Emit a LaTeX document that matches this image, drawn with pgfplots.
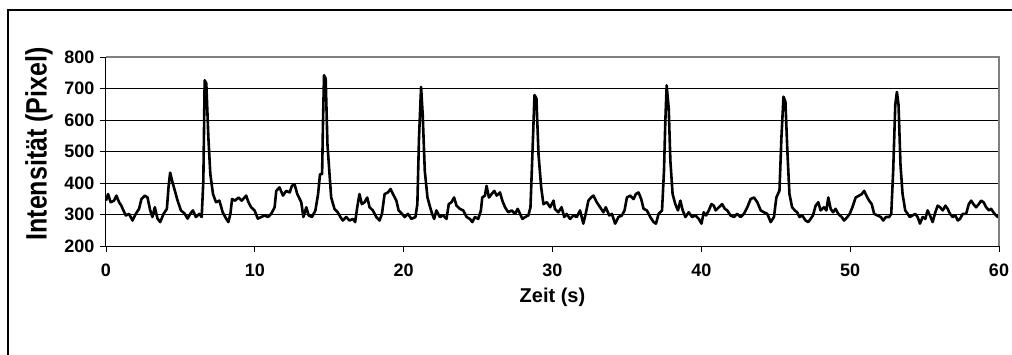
\documentclass[border=0pt]{standalone}
\usepackage{pgfplots}
\pgfplotsset{compat=1.18}
\usepackage{fontspec}
\usepackage{graphicx}
\setmainfont{Liberation Sans}
\newfontfamily\ylabfont{Liberation Sans}
\begin{document}
\begin{tikzpicture}
\useasboundingbox (-106pt,-108pt) rectangle (906pt,246pt);
\draw[line width=1.5pt] (-98pt,-110pt) -- (-98pt,236pt) -- (908pt,236pt);
\begin{axis}[at={(0pt,0pt)}, anchor=south west, width=893pt, height=189pt, scale only axis,
 xmin=0, xmax=60, ymin=200, ymax=800,
 axis x line*=bottom, axis y line*=left,
 axis line style={black, line width=1pt},
 xtick={0,10,...,60}, ytick={200,300,...,800},
 tick align=outside, major tick length=6pt, tick style={black, line width=0.8pt},
 ymajorgrids, major grid style={black, line width=0.9pt},
 /pgf/number format/assume math mode=true,
 ticklabel style={font=\bfseries\fontsize{18}{18}\selectfont},
 xticklabel style={yshift=-8pt},
 yticklabel style={xshift=-2pt},
 xlabel={Zeit (s)},
 ylabel={\scalebox{1}[1.18]{\ylabfont\bfseries\fontsize{25}{25}\selectfont Intensität (Pixel)}},
 xlabel style={font=\bfseries\fontsize{20}{20}\selectfont, at={(axis description cs:0.5,-0.27)}, anchor=center},
 ylabel style={at={(axis description cs:-0.075,0.54)}, anchor=center},
 clip=false
]
\addplot[black, line width=2.6pt, line join=round] table {
0.00 344
0.14 365
0.31 339
0.54 344
0.70 360
0.88 339
1.03 328
1.17 313
1.33 297
1.55 302
1.78 281
2.00 302
2.22 318
2.38 349
2.61 360
2.79 354
2.97 313
3.12 292
3.28 323
3.46 287
3.64 276
3.87 302
4.09 318
4.20 386
4.31 433
4.47 402
4.63 375
4.81 344
5.03 313
5.26 304
5.48 287
5.66 302
5.84 313
6.04 292
6.27 302
6.43 292
6.54 407
6.63 726
6.74 716
6.88 543
7.01 428
7.19 365
7.39 339
7.62 344
7.84 307
8.07 287
8.22 276
8.36 302
8.47 349
8.67 344
8.90 354
9.12 344
9.42 360
9.57 339
9.75 323
9.98 313
10.20 287
10.43 292
10.65 297
10.88 292
11.10 302
11.33 323
11.44 375
11.66 386
11.89 360
12.11 375
12.34 370
12.49 391
12.67 396
12.85 365
13.12 339
13.26 292
13.46 323
13.62 297
13.84 292
14.07 313
14.25 365
14.38 428
14.52 428
14.58 595
14.65 742
14.76 731
14.88 522
15.13 354
15.35 318
15.57 307
15.75 292
15.91 281
16.14 292
16.36 281
16.59 286
16.74 276
16.88 323
17.03 365
17.19 333
17.37 339
17.55 354
17.71 323
17.93 313
18.16 292
18.38 281
18.54 302
18.72 365
18.94 370
19.12 381
19.28 365
19.51 344
19.66 313
19.89 302
20.07 292
20.29 302
20.52 286
20.79 292
20.92 333
21.03 543
21.17 705
21.28 616
21.42 438
21.60 354
21.75 328
21.91 302
22.05 286
22.20 313
22.43 292
22.65 297
22.88 286
23.03 333
23.21 339
23.39 354
23.55 328
23.78 318
24.00 313
24.23 292
24.45 286
24.61 276
24.79 292
25.01 286
25.19 313
25.28 354
25.46 360
25.57 391
25.73 354
25.91 365
26.09 375
26.25 360
26.47 370
26.63 344
26.81 323
27.03 307
27.26 313
27.48 302
27.66 318
27.82 302
27.98 286
28.16 292
28.38 297
28.52 323
28.65 491
28.79 679
28.92 669
29.06 491
29.24 386
29.39 333
29.62 339
29.84 323
30.07 344
30.16 318
30.39 307
30.61 323
30.79 292
30.95 302
31.18 286
31.40 297
31.63 292
31.85 313
32.07 271
32.23 302
32.41 344
32.59 354
32.75 360
32.97 339
33.20 323
33.42 307
33.58 323
33.81 297
33.99 302
34.21 271
34.43 292
34.66 297
34.84 313
35.00 354
35.22 360
35.45 349
35.60 365
35.78 370
35.96 349
36.12 318
36.34 313
36.57 292
36.79 276
36.95 271
37.13 302
37.36 313
37.49 438
37.58 595
37.67 710
37.81 637
37.92 470
38.07 365
38.25 333
38.43 313
38.59 344
38.75 313
38.93 292
39.15 307
39.38 292
39.60 297
39.83 286
40.01 271
40.16 307
40.32 297
40.50 313
40.68 333
40.84 328
40.96 313
41.18 323
41.40 333
41.58 318
41.74 313
41.96 297
42.19 292
42.41 302
42.64 292
42.86 302
43.09 323
43.31 349
43.54 354
43.76 339
43.99 313
44.21 307
44.43 302
44.66 276
44.88 292
45.04 354
45.25 376
45.38 543
45.52 674
45.65 658
45.79 491
45.92 365
46.10 323
46.28 313
46.44 307
46.60 292
46.78 297
47.00 281
47.18 276
47.34 286
47.50 297
47.68 328
47.86 339
48.01 313
48.24 323
48.40 313
48.53 354
48.69 318
48.85 307
49.02 318
49.20 302
49.43 292
49.59 281
49.81 292
49.97 302
50.15 323
50.37 354
50.60 360
50.78 365
50.94 375
51.09 360
51.27 344
51.45 333
51.61 302
51.83 297
52.06 292
52.22 281
52.40 292
52.62 292
52.76 302
52.89 438
53.03 648
53.14 689
53.25 648
53.38 459
53.52 365
53.70 313
53.86 302
54.01 292
54.19 297
54.37 302
54.53 292
54.69 271
54.87 292
55.05 286
55.20 313
55.36 297
55.54 276
55.72 307
55.88 328
56.04 323
56.22 313
56.40 328
56.55 318
56.71 302
56.89 292
57.07 297
57.23 281
57.38 286
57.56 302
57.79 302
57.97 333
58.13 344
58.28 333
58.46 323
58.64 333
58.80 344
58.96 339
59.14 323
59.32 313
59.47 318
59.70 302
59.92 292
60.00 297
};
\draw[gray, line width=1.2pt] (rel axis cs:0,1) -- (rel axis cs:1,1) -- (rel axis cs:1,0);
\end{axis}
\end{tikzpicture}
\end{document}
